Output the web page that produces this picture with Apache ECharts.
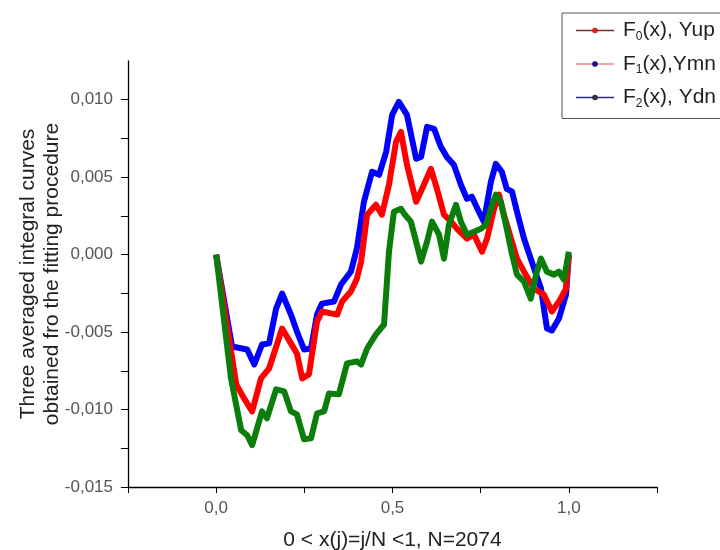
<!DOCTYPE html>
<html>
<head>
<meta charset="utf-8">
<script src="https://cdn.jsdelivr.net/npm/echarts@6/dist/echarts.min.js"></script>
<style>
  html, body { margin: 0; padding: 0; background: #fff; }
  #chart { width: 720px; height: 550px; }
</style>
</head>
<body>
<div id="chart"></div>
<script>
// upper curve (blue)
var xUp = [0, 0.045, 0.088, 0.108, 0.130, 0.150, 0.170, 0.187, 0.212, 0.229, 0.249, 0.269, 0.286, 0.300, 0.334, 0.354,
  0.382, 0.399, 0.419, 0.442, 0.462, 0.482, 0.499, 0.518, 0.541, 0.567, 0.581, 0.598, 0.618, 0.637, 0.654, 0.674,
  0.694, 0.711, 0.725, 0.745, 0.759, 0.779, 0.793, 0.810, 0.824, 0.839, 0.853, 0.873, 0.892, 0.921, 0.938, 0.952,
  0.972, 0.992, 1.0];
var yUp = [0, -0.00593, -0.00612, -0.00709, -0.00580, -0.00573, -0.00348, -0.00251, -0.00387, -0.00496, -0.00612,
  -0.00606, -0.00387, -0.00316, -0.00303, -0.00193, -0.00110, 0.00039, 0.00341, 0.00535, 0.00515, 0.00664, 0.00902,
  0.00986, 0.00902, 0.00619, 0.00631, 0.00825, 0.00812, 0.00696, 0.00631, 0.00580, 0.00451, 0.00361, 0.00374,
  0.00277, 0.00213, 0.00470, 0.00586, 0.00535, 0.00425, 0.00406, 0.00277, 0.00103, -0.00026, -0.00219, -0.00477,
  -0.00490, -0.00412, -0.00258, 0];

// middle curve (red)
var xMn = [0, 0.057, 0.079, 0.102, 0.127, 0.150, 0.187, 0.212, 0.229, 0.244, 0.263, 0.286, 0.300, 0.343, 0.357,
  0.382, 0.399, 0.411, 0.428, 0.453, 0.470, 0.490, 0.510, 0.524, 0.541, 0.567, 0.584, 0.609, 0.626, 0.646, 0.666,
  0.683, 0.711, 0.731, 0.754, 0.768, 0.788, 0.802, 0.816, 0.836, 0.853, 0.873, 0.901, 0.929, 0.952, 0.972, 0.992, 1.0];
var yMn = [0, -0.00838, -0.00928, -0.01012, -0.00799, -0.00735, -0.00477, -0.00573, -0.00638, -0.00799, -0.00773,
  -0.00432, -0.00367, -0.00387, -0.00303, -0.00238, -0.00155, -0.00045, 0.00258, 0.00322, 0.00258, 0.00451, 0.00728,
  0.00792, 0.00580, 0.00341, 0.00425, 0.00554, 0.00425, 0.00258, 0.00213, 0.00167, 0.00103, 0.00129, 0.00019,
  0.00103, 0.00296, 0.00387, 0.00258, 0.00103, -0.00026, -0.00110, -0.00219, -0.00258, -0.00367, -0.00303,
  -0.00219, 0];

// lower curve (green)
var xDn = [0, 0.042, 0.071, 0.088, 0.102, 0.130, 0.144, 0.170, 0.193, 0.212, 0.229, 0.249, 0.269, 0.286, 0.306,
  0.320, 0.348, 0.371, 0.399, 0.411, 0.428, 0.453, 0.476, 0.490, 0.504, 0.524, 0.533, 0.552, 0.567, 0.581, 0.598,
  0.612, 0.632, 0.646, 0.660, 0.680, 0.694, 0.711, 0.731, 0.751, 0.765, 0.779, 0.793, 0.807, 0.824, 0.839, 0.853,
  0.873, 0.892, 0.907, 0.921, 0.938, 0.958, 0.972, 0.986, 1.0];
var yDn = [0, -0.00799, -0.01134, -0.01166, -0.01230, -0.01012, -0.01057, -0.00870, -0.00883, -0.01012, -0.01031,
  -0.01192, -0.01186, -0.01025, -0.01012, -0.00896, -0.00902, -0.00702, -0.00689, -0.00709, -0.00606, -0.00515,
  -0.00451, 0.00019, 0.00277, 0.00296, 0.00264, 0.00213, 0.00084, -0.00045, 0.00084, 0.00213, 0.00129, -0.00026,
  0.00193, 0.00322, 0.00213, 0.00129, 0.00148, 0.00167, 0.00193, 0.00296, 0.00387, 0.00341, 0.00167, 0, -0.00129,
  -0.00174, -0.00284, -0.00129, -0.00026, -0.00110, -0.00129, -0.00110, -0.00161, 0.00019];

var seriesNames = ["F0(x), Yup", "F1(x),Ymn", "F2(x), Ydn"];
var legendRich = ["{n|F}{s|0}{n|(x), Yup}", "{n|F}{s|1}{n|(x),Ymn}", "{n|F}{s|2}{n|(x), Ydn}"];

function pairs(xs, ys) {
  return xs.map(function (x, i) { return [x, ys[i]]; });
}

var chart = echarts.init(document.getElementById("chart"), null, { renderer: "canvas" });

var font = "Liberation Sans, Arial, sans-serif";

var option = {
  animation: false,
  backgroundColor: "#fff",
  grid: { left: 128, right: 63, top: 61, bottom: 63, containLabel: false, outerBoundsMode: "none" },
  legend: {
    orient: "vertical",
    left: 562,
    top: 13,
    padding: [7, 60, 9, 13],
    itemGap: 11,
    itemWidth: 38,
    itemHeight: 7,
    borderColor: "#555",
    borderWidth: 1,
    data: [
      { name: seriesNames[0], itemStyle: { color: "#e02020" }, lineStyle: { color: "#7a2a2a", width: 1.5 } },
      { name: seriesNames[1], itemStyle: { color: "#10108a" }, lineStyle: { color: "#f7a0a0", width: 2 } },
      { name: seriesNames[2], itemStyle: { color: "#333" }, lineStyle: { color: "#2a2a88", width: 1.5 } }
    ],
    formatter: function (name) {
      return legendRich[seriesNames.indexOf(name)];
    },
    textStyle: {
      fontFamily: font,
      color: "#222",
      padding: [0, 0, 0, 4],
      rich: {
        n: { fontSize: 21, fontFamily: font, color: "#222", lineHeight: 24 },
        s: { fontSize: 12, fontFamily: font, color: "#222", padding: [12, 0, 0, 0] }
      }
    }
  },
  xAxis: {
    type: "value",
    min: -0.25,
    max: 1.25,
    interval: 0.25,
    name: "0 < x(j)=j/N <1, N=2074",
    nameLocation: "middle",
    nameGap: 43,
    nameMoveOverlap: false,
    nameTextStyle: { fontFamily: font, fontSize: 21, color: "#222" },
    axisLine: { show: true, onZero: false, lineStyle: { color: "#000", width: 1.3 } },
    axisTick: { show: true, length: 6, lineStyle: { color: "#000" } },
    splitLine: { show: false },
    axisLabel: {
      margin: 13,
      fontFamily: font,
      fontSize: 17,
      color: "#555",
      formatter: function (v) {
        var k = Math.round(v * 4);
        if (k % 2 !== 0 || k < 0 || k > 4) return "";
        return (k / 4).toFixed(1).replace(".", ",");
      }
    }
  },
  yAxis: {
    type: "value",
    min: -0.015,
    max: 0.0125,
    interval: 0.0025,
    name: "Three averaged integral curves\nobtained fro the fitting procedure",
    nameLocation: "middle",
    nameGap: 64,
    nameMoveOverlap: false,
    nameTextStyle: { fontFamily: font, fontSize: 21, color: "#222", lineHeight: 24 },
    axisLine: { show: true, onZero: false, lineStyle: { color: "#000", width: 1.3 } },
    axisTick: { show: true, length: 7, lineStyle: { color: "#000" } },
    splitLine: { show: false },
    axisLabel: {
      margin: 15,
      fontFamily: font,
      fontSize: 17,
      color: "#555",
      showMaxLabel: false,
      formatter: function (v) {
        var k = Math.round(v * 400);
        if (k % 2 !== 0 || k > 4) return "";
        return (k / 400).toFixed(3).replace(".", ",");
      }
    }
  },
  series: [
    {
      name: seriesNames[0],
      type: "line",
      data: pairs(xUp, yUp),
      symbol: "circle",
      showSymbol: false,
      lineStyle: { color: "#0000ff", width: 6, join: "round" },
      itemStyle: { color: "#0000ff" },
      z: 2
    },
    {
      name: seriesNames[1],
      type: "line",
      data: pairs(xMn, yMn),
      symbol: "circle",
      showSymbol: false,
      lineStyle: { color: "#ff0000", width: 6, join: "round" },
      itemStyle: { color: "#ff0000" },
      z: 3
    },
    {
      name: seriesNames[2],
      type: "line",
      data: pairs(xDn, yDn),
      symbol: "circle",
      showSymbol: false,
      lineStyle: { color: "#0b7d0b", width: 6, join: "round" },
      itemStyle: { color: "#0b7d0b" },
      z: 4
    }
  ]
};

chart.setOption(option);
</script>
</body>
</html>
